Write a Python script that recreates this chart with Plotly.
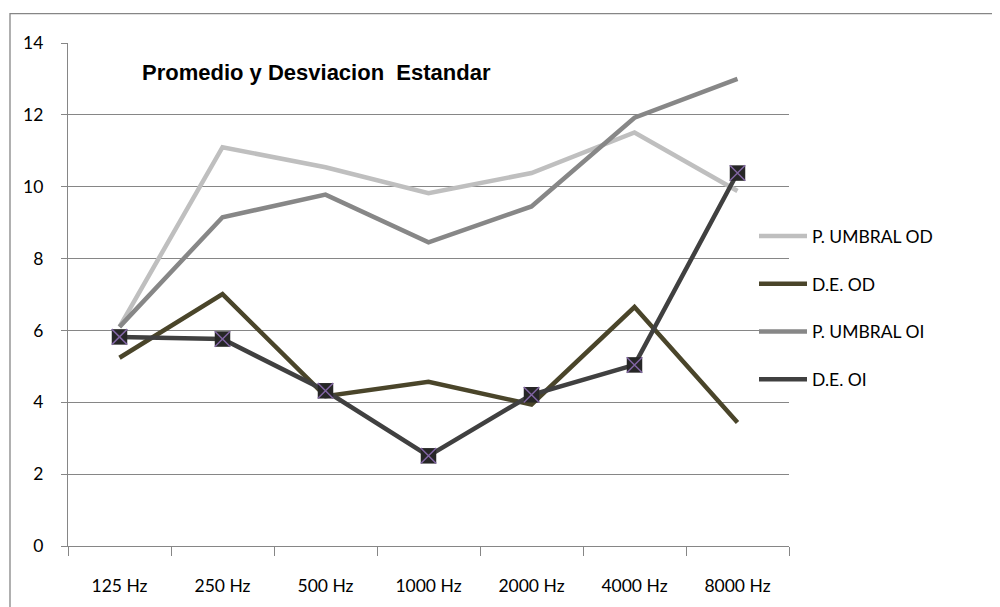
import plotly.graph_objects as go

categories = ["125 Hz", "250 Hz", "500 Hz", "1000 Hz", "2000 Hz", "4000 Hz", "8000 Hz"]
umbral_od = [6.10, 11.10, 10.54, 9.82, 10.38, 11.51, 9.88]
de_od = [5.24, 7.01, 4.17, 4.57, 3.94, 6.65, 3.44]
umbral_oi = [6.10, 9.15, 9.78, 8.45, 9.45, 11.92, 13.00]
de_oi = [5.82, 5.76, 4.32, 2.51, 4.21, 5.04, 10.38]
y_ticks = [0, 2, 4, 6, 8, 10, 12, 14]

# page body has an 8px margin; work in page coordinates
OFF = 8
W, H = 1000 - OFF, 607 - OFF
L, R, T, B = 68, 789, 42.5, 546.5   # page coordinates of plot area
pw, ph = R - L, B - T

def px_x(x):
    return (x - L) / pw

def px_y(y):
    return (B - y) / ph

FONT = "Lato, Open Sans, sans-serif"
GRID = "#868686"

fig = go.Figure()
fig.add_trace(go.Scatter(x=categories, y=umbral_od, name="P. UMBRAL OD", mode="lines",
                         line=dict(color="#bfbfbf", width=4.5), legendgroup="a"))
fig.add_trace(go.Scatter(x=categories, y=de_od, name="D.E. OD", mode="lines",
                         line=dict(color="#4a452a", width=4.5), legendgroup="b"))
fig.add_trace(go.Scatter(x=categories, y=umbral_oi, name="P. UMBRAL OI", mode="lines",
                         line=dict(color="#878787", width=4.5), legendgroup="c"))
fig.add_trace(go.Scatter(x=categories, y=de_oi, name="D.E. OI", mode="lines",
                         line=dict(color="#404040", width=4.5), legendgroup="d"))
fig.add_trace(go.Scatter(x=categories, y=de_oi, mode="markers", showlegend=False,
                         marker=dict(symbol="square", size=15.5, color="#262626",
                                     line=dict(width=0)), legendgroup="d"))
fig.add_trace(go.Scatter(x=categories, y=de_oi, mode="markers", showlegend=False,
                         marker=dict(symbol="x-thin", size=15.5, color="#8064a2",
                                     line=dict(width=1.5, color="#8064a2")), legendgroup="d"))

fig.update_layout(
    width=W, height=H,
    margin=dict(l=L - OFF, r=1000 - R, t=T - OFF, b=607 - B, pad=0),
    paper_bgcolor="white", plot_bgcolor="white",
    font=dict(family=FONT, size=17.5, color="#000000"),
    showlegend=True,
    legend=dict(x=px_x(754), y=px_y(218), xanchor="left", yanchor="top",
                font=dict(family=FONT, size=17.5, color="#000000"),
                tracegroupgap=22, itemwidth=48, bgcolor="rgba(0,0,0,0)"),
    xaxis=dict(type="category", showgrid=False, showline=True, linecolor=GRID, linewidth=1.3,
               ticks="outside", ticklen=9, tickwidth=1.3, tickcolor=GRID, tickson="boundaries",
               range=[-0.5, 6.5], ticklabelstandoff=24, zeroline=False),
    yaxis=dict(range=[0, 14], tickvals=y_ticks, showgrid=True, gridcolor=GRID, gridwidth=1.3,
               showline=True, linecolor=GRID, linewidth=1.3, ticks="outside", ticklen=6,
               tickwidth=1.3, tickcolor=GRID, zeroline=False, ticklabelstandoff=14),
    annotations=[dict(text="<b>Promedio y Desviacion  Estandar</b>", xref="paper", yref="paper",
                      x=px_x(140), y=px_y(72), xanchor="left", yanchor="middle", showarrow=False,
                      font=dict(family="Liberation Sans Narrow, Arial Narrow, Liberation Sans, Arial",
                                size=22, color="#000000"))],
    shapes=[dict(type="rect", xref="paper", yref="paper",
                 x0=px_x(10), y0=px_y(620), x1=px_x(1010), y1=px_y(13),
                 line=dict(color=GRID, width=1.3), fillcolor="rgba(0,0,0,0)", layer="below")],
)

fig.write_html("out.html")
